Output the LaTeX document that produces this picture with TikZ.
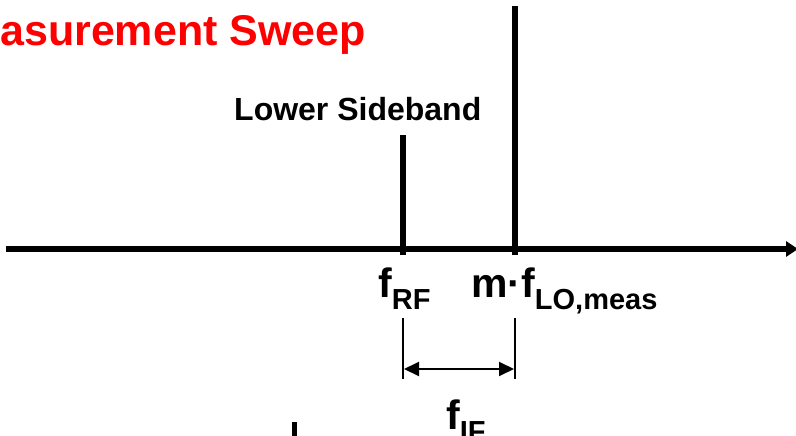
\documentclass[tikz,border=0pt]{standalone}
\usepackage{fontspec}
\setmainfont{Liberation Sans}
\usepackage{tikz}
\usetikzlibrary{positioning,calc,arrows.meta}
\definecolor{titlered}{HTML}{FF0000}

\newcommand{\freqlbl}[2]{{\fontsize{41}{41}\selectfont\bfseries #1}\raisebox{-12pt}{\fontsize{29}{29}\selectfont\bfseries #2}}

\begin{document}
\begin{tikzpicture}[x=1pt, y=-1pt,
  specline/.style={line width=5.5pt},
  dimline/.style={line width=2pt},
  lbl/.style={inner sep=0pt, anchor=base west}]
  \useasboundingbox (0,0) rectangle (796,436);
  \clip (0,0) rectangle (796,436);

  % Title
  \node[lbl, text=titlered, font=\fontsize{43}{43}\selectfont\bfseries] (title) at (0,46) {asurement Sweep};

  % Frequency axis
  \coordinate (axl) at (6,249);
  \coordinate (axr) at (798,249);
  \draw[specline, -{Triangle[length=12pt,width=15pt]}] (axl) -- (axr);

  % Spectral lines
  \coordinate (rfbot) at (403,255);
  \coordinate (rftop) at (403,135);
  \coordinate (lobot) at (515,255);
  \coordinate (lotop) at (515,6);
  \draw[specline] (rfbot) -- (rftop);
  \draw[specline] (lobot) -- (lotop);
  \node[lbl, font=\fontsize{32}{32}\selectfont\bfseries] (lsb) at (234,121) {Lower Sideband};

  % Frequency labels
  \node[lbl] (frf) at (378,297) {\freqlbl{f}{RF}};
  \node[lbl] (flo) at (471,297) {\freqlbl{m·f}{LO,meas}};

  % IF spacing
  \coordinate (dimla) at (403,318);
  \coordinate (dimlb) at (403,379);
  \coordinate (dimra) at (515,318);
  \coordinate (dimrb) at (515,379);
  \coordinate (ifl) at (404,369);
  \coordinate (ifr) at (514,369);
  \draw[dimline] (dimla) -- (dimlb);
  \draw[dimline] (dimra) -- (dimrb);
  \draw[dimline, {Triangle[length=15pt,width=14pt]}-{Triangle[length=15pt,width=14pt]}] (ifl) -- (ifr);
  \node[lbl] (fif) at (446,429) {\freqlbl{f}{IF}};

  % Next plot (cut off)
  \coordinate (nexttop) at (294.5,422);
  \coordinate (nextbot) at (294.5,440);
  \draw[specline] (nexttop) -- (nextbot);
\end{tikzpicture}
\end{document}
